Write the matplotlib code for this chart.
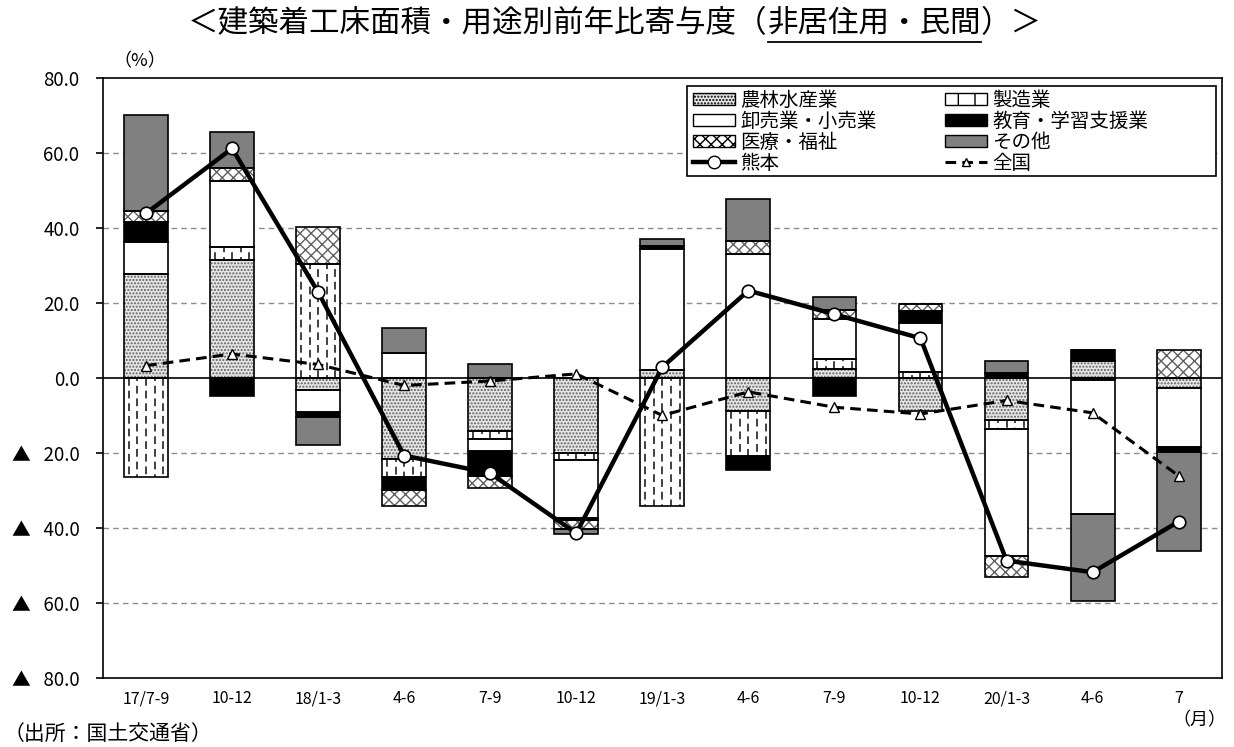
import numpy as np
import matplotlib
matplotlib.use("Agg")
import matplotlib.pyplot as plt
from matplotlib.patches import Patch, Rectangle
from matplotlib.lines import Line2D

plt.rcParams['font.family'] = ['Noto Sans CJK JP', 'DejaVu Sans']
plt.rcParams['hatch.linewidth'] = 1.0

# categories (x axis)
periods = ["17/7-9", "10-12", "18/1-3", "4-6", "7-9", "10-12", "19/1-3",
           "4-6", "7-9", "10-12", "20/1-3", "4-6", "7"]

# contribution by use (%)
agri      = [27.6, 31.4, -3.2, -21.6, -14.2, -20.0, 2.0, -8.9, 2.4, -8.8, -11.1, 4.6, -2.7]
manuf     = [-26.3, 3.5, 30.3, -4.8, -2.0, -2.0, -34.2, -11.8, 2.6, 1.5, -2.5, -0.6, 0.0]
wholesale = [8.7, 17.6, -5.8, 6.6, -3.4, -15.4, 32.5, 33.0, 10.6, 13.2, -33.8, -35.6, -15.7]
education = [5.2, -4.8, -1.3, -3.4, -6.5, -0.6, 0.6, -3.9, -4.7, 3.1, 1.3, 2.9, -1.4]
medical   = [3.0, 3.4, 10.0, -4.4, -3.3, -2.3, 0.0, 3.4, 2.6, 2.0, -5.8, 0.0, 7.5]
other     = [25.5, 9.8, -7.5, 6.7, 3.7, -1.2, 2.0, 11.2, 3.4, 0.0, 3.2, -23.4, -26.4]

# totals
kumamoto = [43.9, 61.2, 22.9, -20.7, -25.4, -41.4, 2.9, 23.3, 17.0, 10.6, -48.7, -51.8, -38.3]
national = [3.3, 6.4, 3.6, -2.0, -0.8, 1.1, -10.0, -3.7, -7.8, -9.6, -6.0, -9.3, -26.1]

yticks = [80, 60, 40, 20, 0, -20, -40, -60, -80]
ytick_labels = ["80.0", "60.0", "40.0", "20.0", "0.0",
                "▲   20.0", "▲   40.0", "▲   60.0", "▲   80.0"]

series = [
    ("農林水産業", agri, "#e6e6e6", "....."),
    ("製造業", manuf, "white", None),   # dashed verticals drawn below
    ("卸売業・小売業", wholesale, "white", None),
    ("教育・学習支援業", education, "black", None),
    ("医療・福祉", medical, "white", "xxx"),
    ("その他", other, "#808080", None),
]

fig = plt.figure(figsize=(12.34, 7.47), dpi=100)
ax = fig.add_axes([0.0835, 0.0924, 0.9065, 0.8032])

x = np.arange(len(periods))
width = 0.51
pos_bottom = np.zeros(len(periods))
neg_bottom = np.zeros(len(periods))

for name, vals, fc, hatch in series:
    vals = np.array(vals)
    bottoms = np.where(vals >= 0, pos_bottom, neg_bottom)
    # pattern layer (gray hatch), then black outline on top
    ax.bar(x, vals, width, bottom=bottoms, color=fc, hatch=hatch,
           edgecolor="#606060", linewidth=0, zorder=2)
    if name == "製造業":
        # vertical dashed strokes inside the bar
        for xi, b, v in zip(x, bottoms, vals):
            if v == 0:
                continue
            for k, off in enumerate([-0.2, -0.1, 0.0, 0.1, 0.2]):
                ax.plot([xi + off, xi + off], [b, b + v], color="#404040",
                        linewidth=1.4, linestyle=(2.5 * (k % 2), (4, 2.5)),
                        zorder=2.5, solid_capstyle="butt")
    ax.bar(x, vals, width, bottom=bottoms, fill=False,
           edgecolor="black", linewidth=1.2, zorder=3)
    pos_bottom = pos_bottom + np.where(vals > 0, vals, 0)
    neg_bottom = neg_bottom + np.where(vals < 0, vals, 0)

ax.plot(x, kumamoto, color="black", linewidth=3.2, marker="o", markersize=9,
        markerfacecolor="white", markeredgecolor="black", markeredgewidth=1.2,
        zorder=5)
ax.plot(x, national, color="black", linewidth=2.2, linestyle=(0, (3.5, 2.0)),
        marker="^", markersize=7, markerfacecolor="white",
        markeredgecolor="black", markeredgewidth=1.0, zorder=4)

ax.axhline(0, color="black", linewidth=1.2, zorder=3)
for yv in yticks:
    if yv not in (0, 80, -80):
        ax.axhline(yv, color="#8c8c8c", linewidth=1.0, linestyle=(0, (4, 3)),
                   zorder=1)

ax.set_xlim(-0.5, len(periods) - 0.5)
ax.set_ylim(-80, 80)
ax.set_yticks(yticks)
ax.set_yticklabels(ytick_labels, fontsize=13.5)
ax.set_xticks(x)
ax.set_xticklabels(periods, fontsize=11.5)
ax.tick_params(axis="x", length=0, pad=9)
ax.tick_params(axis="y", length=5, direction="out", width=1.2, pad=12)
for sp in ax.spines.values():
    sp.set_color("black")
    sp.set_linewidth(1.2)

# legend
h = {}
for name, vals, fc, hatch in series:
    if name == "製造業":
        hatch = "|"
    h[name] = Patch(facecolor=fc, hatch=hatch, edgecolor="black", linewidth=1.0)
h["熊本"] = Line2D([], [], color="black", linewidth=3.2, marker="o",
                 markersize=9, markerfacecolor="white", markeredgecolor="black")
h["全国"] = Line2D([], [], color="black", linewidth=2.2,
                 linestyle=(0, (3.5, 2.0)), marker="^", markersize=6,
                 markerfacecolor="white", markeredgecolor="black")
order = ["農林水産業", "卸売業・小売業", "医療・福祉", "熊本",
         "製造業", "教育・学習支援業", "その他", "全国"]
ax.add_patch(Rectangle((0.5219, 0.8367), 0.4727, 0.15, transform=ax.transAxes,
                       facecolor="white", edgecolor="black", linewidth=1.2,
                       zorder=6))
leg = ax.legend([h[k] for k in order], order, ncol=2, loc="upper left",
                bbox_to_anchor=(0.5235, 0.9867), fontsize=14, frameon=False,
                handlelength=2.2, handleheight=0.55, handletextpad=0.25,
                labelspacing=0.0, columnspacing=3.5, borderpad=0.2,
                borderaxespad=0)
leg.set_zorder(7)

# text around the chart
fig.text(0.113, 0.918, "（%）", fontsize=13, ha="center", va="center")
fig.text(0.972, 0.036, "（月）", fontsize=13, ha="center", va="center")
fig.text(0.003, 0.018, "（出所：国土交通省）", fontsize=15, ha="left",
         va="center")

# title with underlined part
parts = ["＜建築着工床面積・用途別前年比寄与度（", "非居住用・民間", "）＞"]
fig.canvas.draw()
r = fig.canvas.get_renderer()
widths = []
for p in parts:
    t = fig.text(0, 0, p, fontsize=22)
    widths.append(t.get_window_extent(r).width)
    t.remove()
total = sum(widths)
start = 615 - total / 2
W, H = fig.get_size_inches() * fig.dpi
xpos = start
for i, p in enumerate(parts):
    fig.text(xpos / W, 1 - 24 / H, p, fontsize=22, ha="left", va="center")
    if i == 1:
        fig.add_artist(Line2D([xpos / W, (xpos + widths[i]) / W],
                              [1 - 42 / H, 1 - 42 / H], color="black",
                              linewidth=1.3))
    xpos += widths[i]

fig.savefig("out.png", dpi=100)
